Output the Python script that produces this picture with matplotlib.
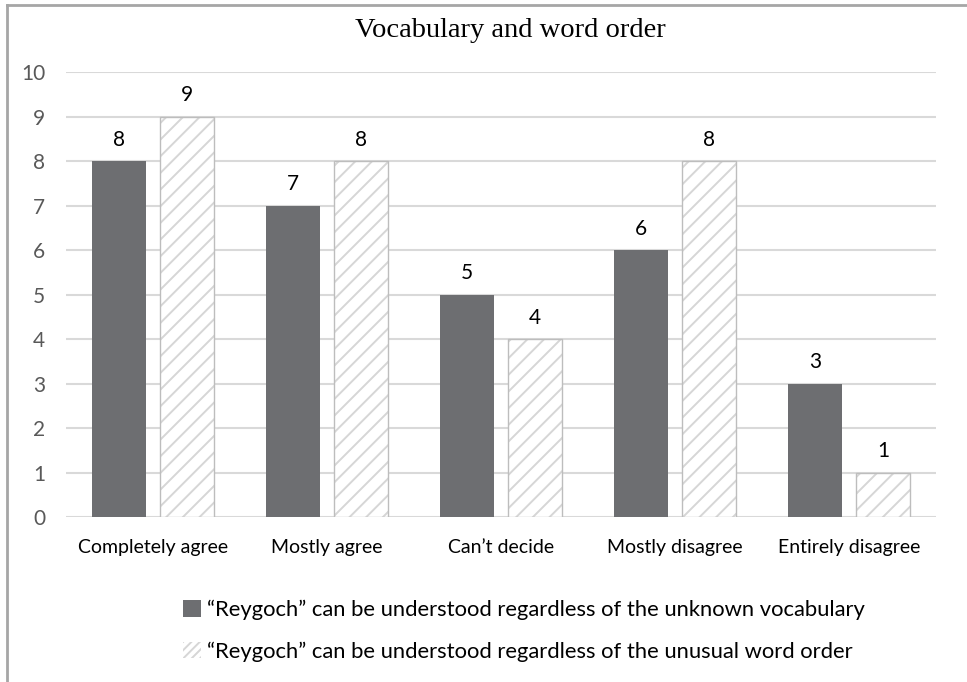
"""Vocabulary and word order - grouped bar chart"""

import numpy as np
import matplotlib.pyplot as plt
from matplotlib.lines import Line2D
from matplotlib.patches import Patch

plt.rcParams['hatch.linewidth'] = 1.4

categories = ['Completely agree', 'Mostly agree', "Can\u2019t decide", 'Mostly disagree', 'Entirely disagree']
vocabulary = [8, 7, 5, 6, 3]
word_order = [9, 8, 4, 8, 1]
series_names = ['\u201cReygoch\u201d can be understood regardless of the unknown vocabulary',
                '\u201cReygoch\u201d can be understood regardless of the unusual word order']

FONT = 'Lato'
DARK = '#6d6e71'
HATCH = '#d6d6d6'
EDGE = '#bdbdbd'

fig = plt.figure(figsize=(9.67, 6.82), dpi=100)
ax = fig.add_axes([0.0683, 0.2419, 0.8997, 0.6525])

x = np.arange(len(categories))
w = 0.31
b1 = ax.bar(x - 0.195, vocabulary, w, color=DARK)
# hatch fill first, then outline on top so the hatch can be lighter than the edge
ax.bar(x + 0.195, word_order, w, color='white', edgecolor=HATCH, linewidth=0, hatch='//')
b2 = ax.bar(x + 0.195, word_order, w, fill=False, edgecolor=EDGE, linewidth=1)

for bars in (b1, b2):
    ax.bar_label(bars, padding=8, fontsize=15, family=FONT, color='black')

ax.set_xlim(-0.5, 4.5)
ax.set_ylim(0, 10)
ax.set_yticks(range(0, 11))
ax.set_xticks(x)
ax.set_xticklabels(categories, family=FONT, fontsize=14)
ax.tick_params(axis='x', length=0, pad=16)
ax.tick_params(axis='y', length=0, pad=15, labelcolor='#595959', labelsize=15)
for lab in ax.get_yticklabels():
    lab.set_family(FONT)
ax.grid(axis='y', color='#d9d9d9', linewidth=1.5)
ax.set_axisbelow(True)
for s in ax.spines.values():
    s.set_visible(False)

fig.text(0.528, 0.955, 'Vocabulary and word order', ha='center', va='center',
         family='Liberation Serif', fontsize=20.5)

h1 = Patch(facecolor=DARK, edgecolor='none')
h2 = Patch(facecolor='white', edgecolor=HATCH, linewidth=0, hatch='////')
fig.legend(handles=[h1, h2], labels=series_names, loc='upper left',
           bbox_to_anchor=(0.169, 0.150), frameon=False,
           prop={'family': FONT, 'size': 15.8},
           handlelength=0.8, handleheight=0.8, handletextpad=0.3, labelspacing=0.98)

# chart border (left and top edges)
fig.add_artist(Line2D([0.0072, 0.0072], [0, 0.9927], color='#a6a6a6', linewidth=2,
                      transform=fig.transFigure))
fig.add_artist(Line2D([0.0072, 1], [0.9927, 0.9927], color='#a6a6a6', linewidth=2,
                      transform=fig.transFigure))

fig.savefig('out.png', dpi=100)
